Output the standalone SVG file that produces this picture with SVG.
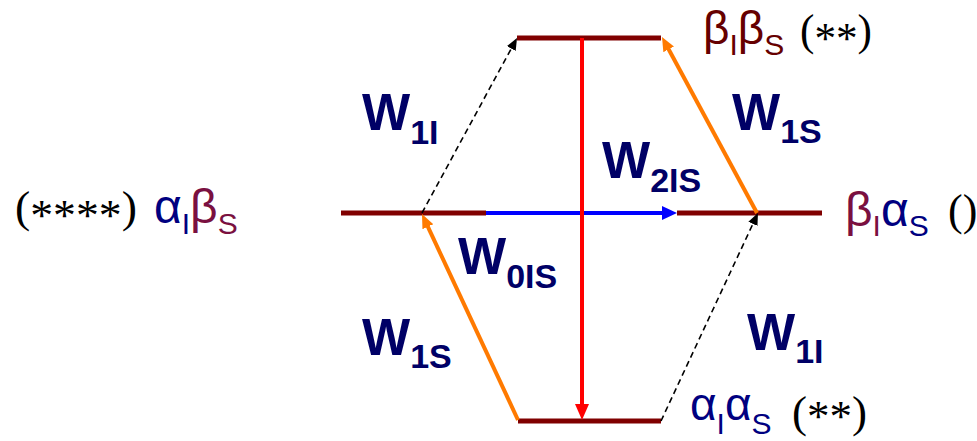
<svg xmlns="http://www.w3.org/2000/svg" width="977" height="441" viewBox="0 0 977 441">
<style>
.lvl{stroke:#800000;stroke-width:5;fill:none}
.w{font-family:"Liberation Sans",Arial,sans-serif;font-weight:bold;font-size:51px;fill:#000066}
.ws{font-size:34px}
.serif{font-family:"Liberation Serif","Times New Roman",serif;font-size:44px;fill:#000}
.sans{font-family:"Liberation Sans",Arial,sans-serif;font-size:46px}
.big{font-size:48px}
.sub{font-size:30px}
.a{fill:#000080}
.b{fill:#7a1040}
.bt{fill:#660000}
</style>
<defs>
<marker id="mo" markerUnits="userSpaceOnUse" markerWidth="16" markerHeight="14" refX="4" refY="6" orient="auto"><path d="M0,0 L14,6 L0,12 z" fill="#ff7a00"/></marker>
<marker id="mk" markerUnits="userSpaceOnUse" markerWidth="14" markerHeight="12" refX="4" refY="5" orient="auto"><path d="M0,0 L12,5 L0,10 z" fill="#000"/></marker>
<marker id="mr" markerUnits="userSpaceOnUse" markerWidth="18" markerHeight="16" refX="4" refY="7" orient="auto"><path d="M0,0 L16,7 L0,14 z" fill="#ff0000"/></marker>
<marker id="mb" markerUnits="userSpaceOnUse" markerWidth="18" markerHeight="16" refX="3" refY="7" orient="auto"><path d="M0,0 L15,7 L0,14 z" fill="#0000ff"/></marker>
</defs>
<g id="level-bb"><line class="lvl" x1="517" y1="38" x2="661" y2="38"/></g>
<g id="level-mid-left"><line class="lvl" x1="341" y1="213" x2="486" y2="213"/></g>
<g id="level-mid-right"><line class="lvl" x1="677" y1="213" x2="822" y2="213"/></g>
<g id="level-aa"><line class="lvl" x1="518" y1="421" x2="661" y2="421"/></g>
<g id="connectors">
<line x1="486" y1="213" x2="665" y2="213" stroke="#0000ff" stroke-width="4" marker-end="url(#mb)"/>
<line x1="582" y1="38" x2="582" y2="408" stroke="#ff0000" stroke-width="4" marker-end="url(#mr)"/>
<line x1="518" y1="420" x2="426.2" y2="223.1" stroke="#ff7a00" stroke-width="4" marker-end="url(#mo)"/>
<line x1="757" y1="213" x2="666.75" y2="45.8" stroke="#ff7a00" stroke-width="4" marker-end="url(#mo)"/>
<line x1="422" y1="213" x2="513.2" y2="45" stroke="#000" stroke-width="1.6" stroke-dasharray="6 4" marker-end="url(#mk)"/>
<line x1="661" y1="421" x2="754.6" y2="220.2" stroke="#000" stroke-width="1.6" stroke-dasharray="6 4" marker-end="url(#mk)"/>
</g>
<g id="rate-labels">
<text class="w" x="362" y="130">W<tspan class="ws" dy="14">1I</tspan></text>
<text class="w" x="602" y="178">W<tspan class="ws" dy="14">2IS</tspan></text>
<text class="w" x="458" y="274">W<tspan class="ws" dy="14">0IS</tspan></text>
<text class="w" x="362" y="355">W<tspan class="ws" dy="13">1S</tspan></text>
<text class="w" x="732" y="130">W<tspan class="ws" dy="13">1S</tspan></text>
<text class="w" x="747" y="350">W<tspan class="ws" dy="13">1I</tspan></text>
</g>
<g id="state-labels">
<text class="serif" x="15" y="222" textLength="122" lengthAdjust="spacingAndGlyphs">(<tspan dy="8">****</tspan><tspan dy="-8">)</tspan></text>
<text class="sans big" x="154" y="223"><tspan class="a">α</tspan><tspan class="a sub" dy="11">I</tspan><tspan class="b" dy="-11">β</tspan><tspan class="b sub" dy="11">S</tspan></text>
<text class="sans" x="703" y="44"><tspan class="bt">β</tspan><tspan class="bt sub" dy="11">I</tspan><tspan class="bt" dy="-11">β</tspan><tspan class="bt sub" dy="11">S</tspan></text>
<text class="serif" x="800" y="45" textLength="72" lengthAdjust="spacingAndGlyphs">(<tspan dy="8">**</tspan><tspan dy="-8">)</tspan></text>
<text class="sans big" x="845" y="226"><tspan class="b">β</tspan><tspan class="b sub" dy="10">I</tspan><tspan class="a" dy="-10">α</tspan><tspan class="a sub" dy="10">S</tspan></text>
<text class="serif" x="948" y="225">()</text>
<text class="sans" x="690" y="420"><tspan class="a">α</tspan><tspan class="a sub" dy="14">I</tspan><tspan class="a" dy="-14">α</tspan><tspan class="a sub" dy="14">S</tspan></text>
<text class="serif" x="792" y="427" textLength="75" lengthAdjust="spacingAndGlyphs">(<tspan dy="4">**</tspan><tspan dy="-4">)</tspan></text>
</g>
</svg>
